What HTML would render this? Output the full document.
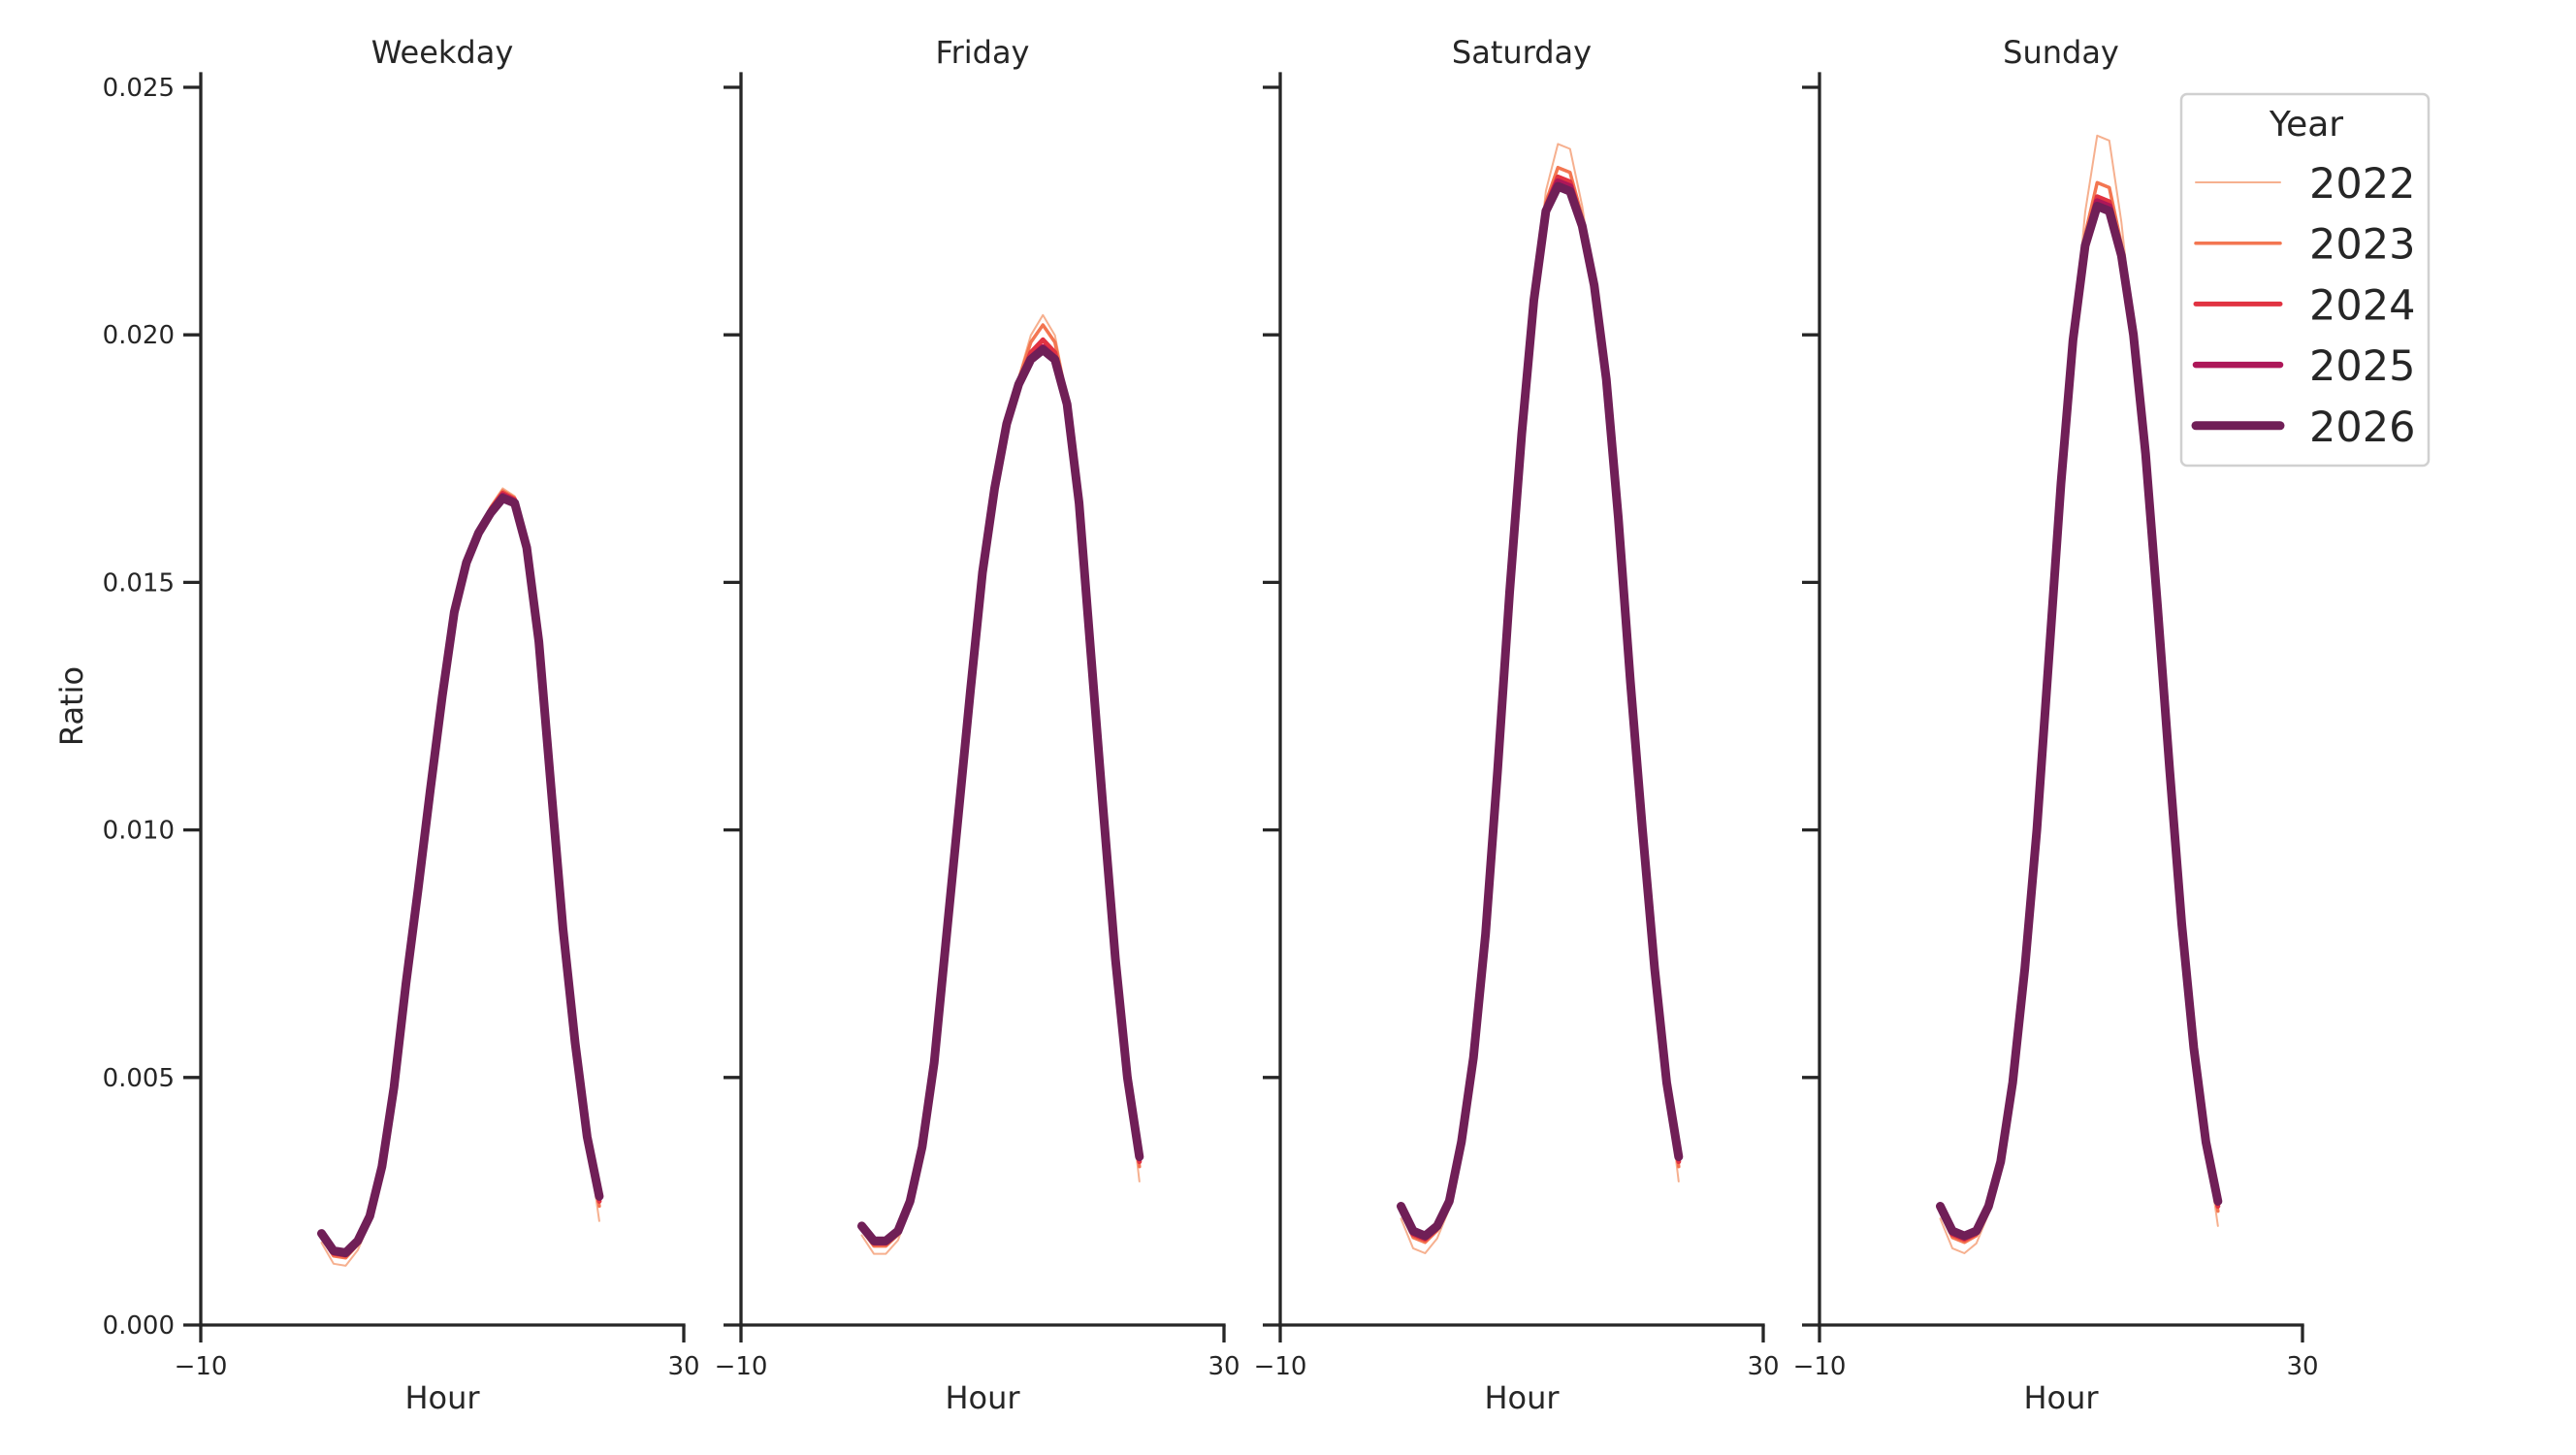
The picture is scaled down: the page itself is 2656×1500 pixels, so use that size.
<!DOCTYPE html>
<html><head><meta charset="utf-8"><style>
html,body{margin:0;padding:0;background:#fff;}
svg{display:block;font-family:"DejaVu Sans","Liberation Sans",sans-serif;}
</style></head><body>
<svg id="s" width="2656" height="1500" xmlns="http://www.w3.org/2000/svg"></svg>
<script>
const S=document.getElementById('s');
let o='';
const X0=[207,764,1320,1876],W=498,Y0=1366,PY=51.04;
const titles=['Weekday','Friday','Saturday','Sunday'];
const base=[
[0.00185,0.0015,0.00146,0.0017,0.0022,0.0032,0.0048,0.0069,0.0088,0.0108,0.0127,0.0144,0.0154,0.0160,0.0164,0.0167,0.0166,0.0157,0.0138,0.0109,0.0080,0.0057,0.0038,0.0026],
[0.0020,0.0017,0.0017,0.0019,0.0025,0.0036,0.0053,0.0078,0.0103,0.0128,0.0152,0.0169,0.0182,0.0190,0.0195,0.0197,0.0195,0.0186,0.0166,0.0135,0.0104,0.0074,0.0050,0.0034],
[0.0024,0.0019,0.0018,0.0020,0.0025,0.0037,0.0054,0.0079,0.0112,0.0148,0.0180,0.0207,0.0225,0.0230,0.0229,0.0222,0.0210,0.0191,0.0163,0.0130,0.0100,0.0072,0.0049,0.0034],
[0.0024,0.0019,0.0018,0.0019,0.0024,0.0033,0.0049,0.0072,0.0100,0.0135,0.0170,0.0199,0.0218,0.0226,0.0225,0.0216,0.0200,0.0176,0.0145,0.0112,0.0081,0.0056,0.0037,0.0025]];
const peakD=[[0.0002,0.00015,0.0001,0.00005],[0.0007,0.0005,0.0002,0.00005],[0.0009,0.0004,0.0002,0.0001],[0.0015,0.0005,0.0002,0.0001]];
const lowDs=[[0.0003,0.00012,0.00006,0.00003],[0.0003,0.00012,0.00006,0.00003],[0.0004,0.00015,0.00008,0.00003],[0.0004,0.00015,0.00008,0.00003]];
const endD=[0.0005,0.0002,0.0001,0.00003];
const cols=['#f6b08f','#f37651','#e13342','#ad1759','#701f57'];
const lw=[2,3.5,5,6.5,9];
for(let p=0;p<4;p++){
 const x0=X0[p];
 const xs=h=>x0+(h+10)*W/40, ys=v=>Y0-v*1000*PY;
 o+=`<line x1="${x0}" y1="76" x2="${x0}" y2="${Y0}" stroke="#262626" stroke-width="3.3" stroke-linecap="square"/>`;
 o+=`<line x1="${x0}" y1="${Y0}" x2="${x0+W}" y2="${Y0}" stroke="#262626" stroke-width="3.3" stroke-linecap="square"/>`;
 for(let k=0;k<=5;k++){const y=ys(k*0.005);o+=`<line x1="${x0-18}" y1="${y}" x2="${x0}" y2="${y}" stroke="#262626" stroke-width="3.3"/>`;
  if(p==0)o+=`<text x="${x0-27}" y="${y+9}" font-size="26" text-anchor="end" fill="#262626">${(k*0.005).toFixed(3)}</text>`;}
 for(const [xv,l] of [[-10,'\u221210'],[30,'30']]){const x=xs(xv);o+=`<line x1="${x}" y1="${Y0}" x2="${x}" y2="${Y0+18}" stroke="#262626" stroke-width="3.3"/><text x="${x}" y="${Y0+51}" font-size="26" text-anchor="middle" fill="#262626">${l}</text>`;}
 o+=`<text x="${x0+W/2}" y="${Y0+86}" font-size="32" text-anchor="middle" fill="#262626">Hour</text>`;
 o+=`<text x="${x0+W/2}" y="65" font-size="32" text-anchor="middle" fill="#262626">${titles[p]}</text>`;
 const b=base[p],n=b.length;let pk=0;b.forEach((v,i)=>{if(v>b[pk])pk=i;});
 const pc=(p>=2)?pk+0.5:pk;
 for(let y=0;y<5;y++){
  let pts=b.map((v,i)=>{let val=v;
   if(y<4){const g=Math.max(0,1-Math.abs(i-pc)/2.4);val+=peakD[p][y]*Math.min(1,g*1.2);
    if(i<=5)val-=lowDs[p][y]*Math.max(0,1-Math.abs(i-1.5)/4);
    if(i==n-1)val-=endD[y];}
   return xs(i).toFixed(1)+','+ys(val).toFixed(1);});
  o+=`<polyline points="${pts.join(' ')}" fill="none" stroke="${cols[y]}" stroke-width="${lw[y]}" stroke-linejoin="round" stroke-linecap="round"/>`;
 }
}
o+=`<text transform="translate(85,728) rotate(-90)" font-size="32" text-anchor="middle" fill="#262626">Ratio</text>`;
o+=`<rect x="2249" y="97" width="255" height="383" rx="6" fill="#fff" stroke="#d0d0d0" stroke-width="2.5"/>`;
o+=`<text x="2378" y="140" font-size="36" text-anchor="middle" fill="#262626">Year</text>`;
for(let y=0;y<5;y++){const yy=188+y*62.7;
 o+=`<line x1="2264" y1="${yy}" x2="2351" y2="${yy}" stroke="${cols[y]}" stroke-width="${lw[y]}" stroke-linecap="round"/>`;
 o+=`<text x="2381" y="${yy+16}" font-size="43" fill="#262626">${2022+y}</text>`;}
S.innerHTML=o;
</script>
</body></html>
